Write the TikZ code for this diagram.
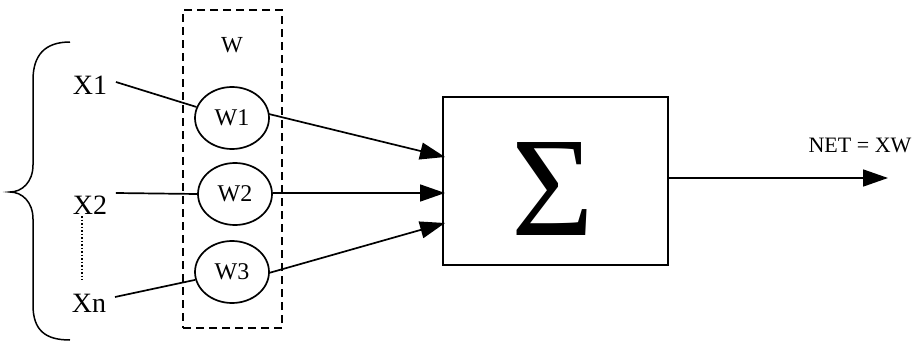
\documentclass[tikz,border=0pt]{standalone}
\usepackage{fontspec}
\setmainfont{Liberation Serif}
\usetikzlibrary{arrows.meta,shapes.geometric}
\begin{document}
\begin{tikzpicture}[x=1pt,y=-1pt,
  line width=1.7pt,
  lbl/.style={font=\fontsize{28}{32}\selectfont, inner sep=0pt},
  wnode/.style={draw, ellipse, minimum width=74pt, minimum height=62pt, inner sep=0pt, font=\fontsize{24}{28}\selectfont},
  arr/.style={-{Triangle[length=25pt,width=17pt]}},
  dashbox/.style={draw, dash pattern=on 8pt off 5pt, line width=1.4pt, minimum width=99pt, minimum height=318pt, inner sep=0pt},
]
\useasboundingbox (0,0) rectangle (916,343);
% dashed box
\node[dashbox] (wbox) at (232.5,169) {};
\node[font=\fontsize{23}{26}\selectfont, inner sep=0pt] (wlab) at (232,45) {W};
% weight nodes
\node[wnode] (w1) at (232,118) {W1};
\node[wnode] (w2) at (235,194) {W2};
\node[wnode] (w3) at (232,272) {W3};
% inputs
\node[lbl] (x1) at (90,85) {X1};
\node[lbl] (x2) at (90,205) {X2};
\node[lbl] (xn) at (89,303) {Xn};
% brace
\draw[line width=1.5pt] (70,42) .. controls (45,42) and (33,55) .. (33,80) -- (33,165)
  .. controls (33,182) and (22,192) .. (10,192)
  .. controls (22,192) and (33,202) .. (33,219) -- (33,305)
  .. controls (33,330) and (45,340) .. (70,340);
% dotted
\coordinate (d1) at (82,216);
\coordinate (d2) at (82,280);
\draw[dotted, line width=1.5pt] (d1) -- (d2);
% input lines
\path (x1.east) ++(8,-3) coordinate (x1e);
\draw (x1e) -- (w1);
\path (x2.east) ++(8,-12) coordinate (x2e);
\draw (x2e) -- (w2.west);
\path (xn.east) ++(8,-6) coordinate (xne);
\draw (xne) -- (w3);
% sum box
\node[draw, minimum width=225pt, minimum height=168pt, inner sep=0pt] (sum) at (555.5,181) {};
\node[font=\fontsize{142}{146}\selectfont, inner sep=0pt] (sig) at (553,189) {Σ};
\coordinate (in1) at (445,157);
\coordinate (in2) at (445,193);
\coordinate (in3) at (445,223);
\path (w1.east) ++(-1,-4) coordinate (w1e);
\draw[arr] (w1e) -- (in1);
\path (w2.east) ++(0,-1) coordinate (w2e);
\draw[arr] (w2e) -- (in2);
\path (w3.east) ++(-1,1) coordinate (w3e);
\draw[arr] (w3e) -- (in3);
% output
\coordinate (out) at (888,178);
\draw[arr] (sum.east |- out) -- (out);
\node[font=\fontsize{22}{26}\selectfont, inner sep=0pt] (net) at (860,145) {NET = XW};
\end{tikzpicture}
\end{document}
